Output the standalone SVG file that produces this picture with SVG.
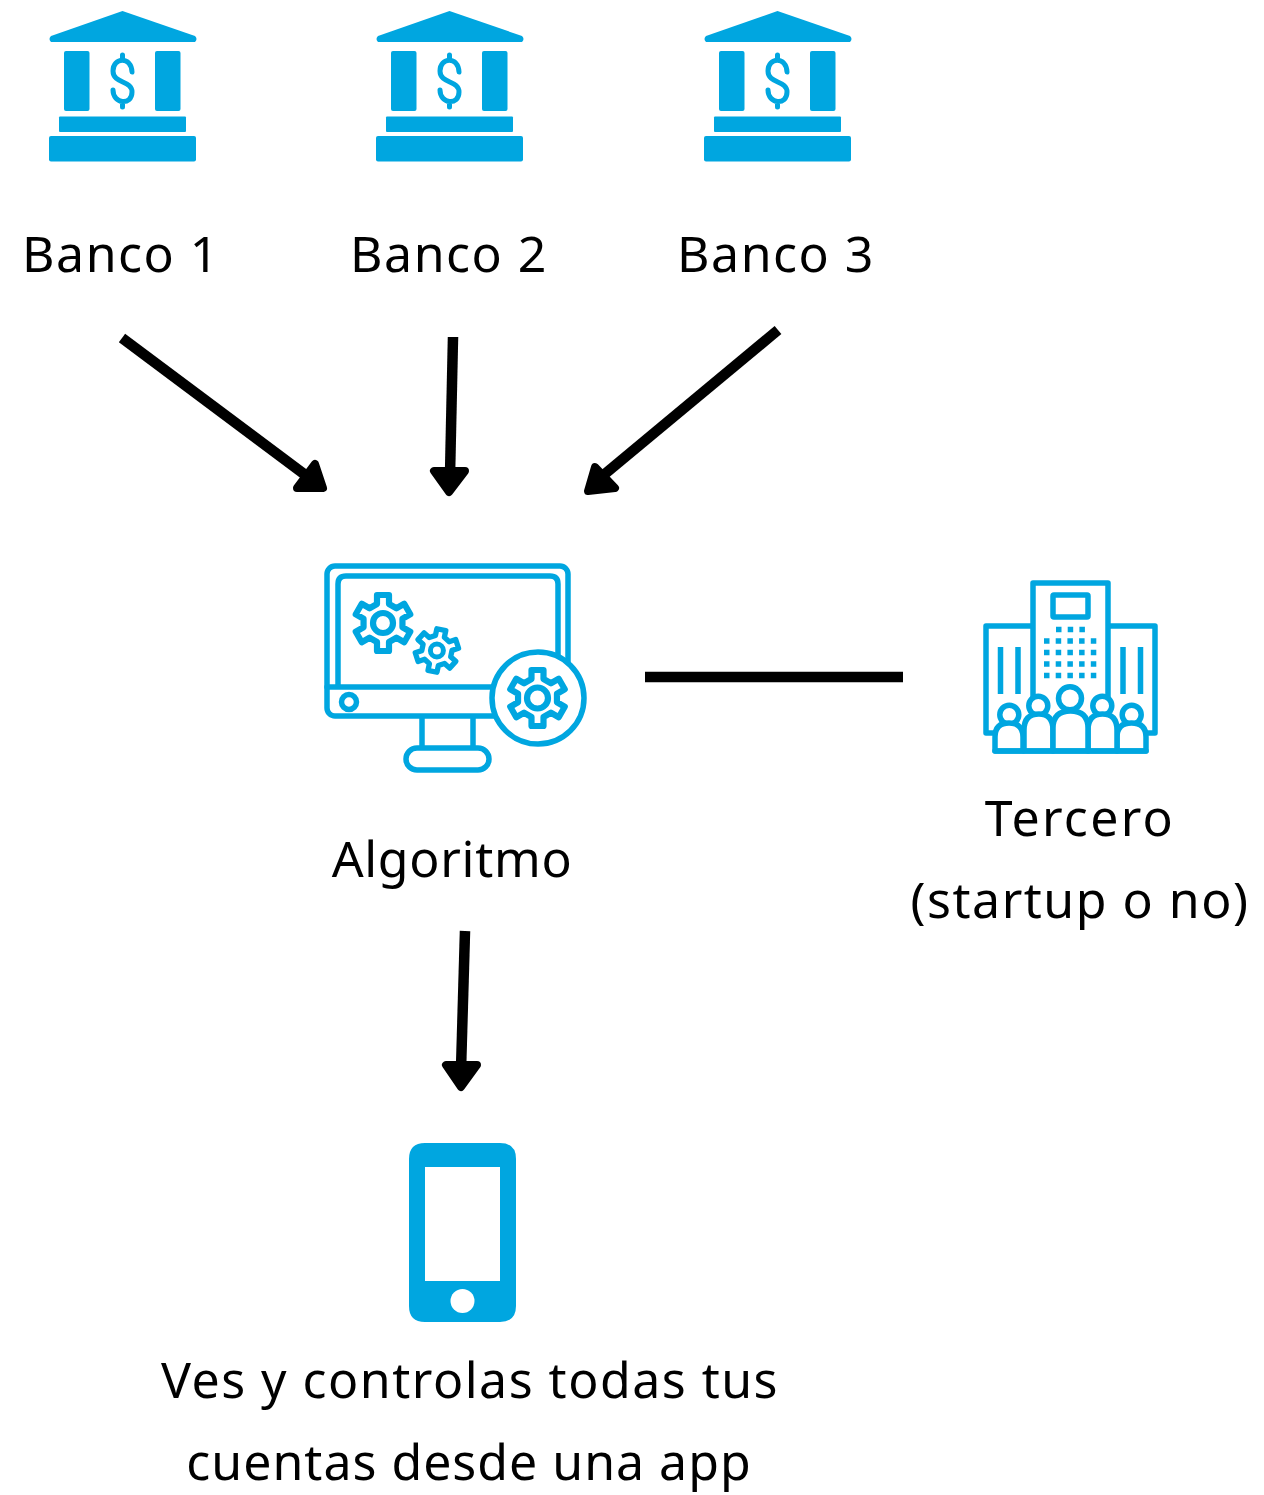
<svg xmlns="http://www.w3.org/2000/svg" width="1264" height="1495" viewBox="0 0 1264 1495">
<style>
.t{font-family:"Noto Sans","Open Sans",sans-serif;font-size:50px;fill:#000;text-anchor:middle;letter-spacing:1.5px}
.c{fill:none;stroke:#000;stroke-width:10.500}
.h{fill:#000;stroke:#000;stroke-width:8;stroke-linejoin:round}
.f{fill:#00a6e0}
.s{fill:none;stroke:#00a6e0;stroke-width:5.500;stroke-linejoin:round;stroke-linecap:round}
.w{fill:#fff;stroke:#00a6e0;stroke-width:5.500;stroke-linejoin:round}
.g{fill:none;stroke:#00a6e0;stroke-width:6.200;stroke-linejoin:round}
</style>
<defs>
<g id="bank">
<path class="f" d="M-0.500 -75L72 -50Q75 -47 72 -44L-72 -44Q-75 -47 -72 -50Z"/>
<rect class="f" x="-59" y="-35" width="25.500" height="60" rx="2"/>
<rect class="f" x="32" y="-35" width="25.500" height="60" rx="2"/>
<rect class="f" x="-64" y="30.500" width="127" height="15.500" rx="1"/>
<rect class="f" x="-74" y="50" width="147" height="25.500" rx="2"/>
<path d="M9.500 -14C9 -30 -9.500 -29 -9.500 -15C-9.500 -2 9.500 -6 9.500 6C9.500 20 -9.500 18 -9.500 4M0 -26V-31M0 16V21" fill="none" stroke="#00a6e0" stroke-width="5" stroke-linecap="round" transform="translate(-0.500 0)"/>
</g>
<path id="gear" d="M-6 -19L-6 -28L6 -28L6 -19L13.450 -14.700L21.250 -19.200L27.250 -8.800L19.450 -4.300L19.450 4.300L27.250 8.800L21.250 19.200L13.450 14.700L6 19L6 28L-6 28L-6 19L-13.450 14.700L-21.250 19.200L-27.250 8.800L-19.450 4.300L-19.450 -4.300L-27.250 -8.800L-21.250 -19.200L-13.450 -14.700Z"/>
</defs>
<g id="connectors">
<path class="c" d="M122 338L312 480"/><path class="h" d="M323 488H297L315 464Z"/>
<path class="c" d="M453 337L450 475"/><path class="h" d="M449 492L434 471H465Z"/>
<path class="c" d="M778 330L600 478"/><path class="h" d="M588 491L595 467L615 488Z"/>
<path class="c" d="M645 677H903"/>
<path class="c" d="M465 931L461 1070"/><path class="h" d="M461 1087L446 1065H477Z"/>
</g>
<g id="banco1"><use href="#bank" x="123" y="86"/><text class="t" x="121" y="272">Banco 1</text></g>
<g id="banco2"><use href="#bank" x="450" y="86"/><text class="t" x="449" y="272">Banco 2</text></g>
<g id="banco3"><use href="#bank" x="778" y="86"/><text class="t" x="776" y="272">Banco 3</text></g>
<g id="algoritmo">
<rect class="s" x="327" y="566" width="241" height="150" rx="8"/>
<path class="s" d="M338 687V584Q338 576 346 576H550Q558 576 558 584V660M327 687H495"/>
<circle class="s" cx="349" cy="702" r="7.500"/>
<path class="s" d="M422 717V746M473 717V746"/>
<rect class="s" x="406" y="748" width="83" height="22" rx="11"/>
<circle cx="538" cy="698" r="46" fill="#fff" stroke="#00a6e0" stroke-width="5.500"/>
<use href="#gear" class="g" transform="translate(383 623)"/><circle class="g" cx="383" cy="623" r="10"/>
<use href="#gear" class="g" style="stroke-width:7" transform="translate(436.900 650.500) rotate(12) scale(.76)"/><circle class="g" style="stroke-width:5" cx="436.900" cy="650.500" r="6.500"/>
<use href="#gear" class="g" transform="translate(537.500 698)"/><circle class="g" cx="537.500" cy="698" r="10.500"/>
<text class="t" style="letter-spacing:.7px" x="452" y="877">Algoritmo</text>
</g>
<g id="tercero">
<path class="s" d="M1033 715V583H1108V715M1033 626H986V733H995M1108 626H1155V733H1146"/>
<rect class="s" x="1053" y="595" width="35" height="22" rx="1"/>
<path d="M1000.500 647V694M1018 647V694M1123 647V694M1140.500 647V694" fill="none" stroke="#00a6e0" stroke-width="5.500"/>
<path d="M1056 629.500H1088M1044 641H1100M1044 652.500H1100M1044 664H1100M1044 675.500H1100" fill="none" stroke="#00a6e0" stroke-width="5.500" stroke-dasharray="5.500 6.200"/>
<circle class="w" cx="1009.300" cy="714.700" r="9.500"/><circle class="w" cx="1038.300" cy="705.700" r="9.500"/><circle class="w" cx="1070" cy="698.300" r="11.500"/><circle class="w" cx="1102.300" cy="705.700" r="9.500"/><circle class="w" cx="1131.700" cy="714.700" r="9.500"/>
<path class="w" d="M995 751V737Q995 723 1009 723Q1023 723 1023 737V751Z"/>
<path class="w" d="M1117 751V737Q1117 723 1131.500 723Q1146 723 1146 737V751Z"/>
<path class="w" d="M1024 751V730Q1024 714 1039 714Q1053 714 1053 730V751Z"/>
<path class="w" d="M1088 751V730Q1088 714 1102.500 714Q1117 714 1117 730V751Z"/>
<path class="w" d="M1053 751V728Q1053 711 1070.500 711Q1088 711 1088 728V751Z"/>
<path class="s" d="M995 751H1146"/>
<text class="t"><tspan style="letter-spacing:2.300px" x="1080" y="836">Tercero</tspan><tspan x="1080" y="918">(startup o no)</tspan></text>
</g>
<g id="app">
<path class="f" fill-rule="evenodd" d="M425 1143H500Q516 1143 516 1159V1306Q516 1322 500 1322H425Q409 1322 409 1306V1159Q409 1143 425 1143ZM425 1167V1281H500V1167Z"/>
<circle cx="462.500" cy="1301" r="12" fill="#fff"/>
<text class="t"><tspan x="470" y="1398">Ves y controlas todas tus</tspan><tspan style="letter-spacing:1px" x="469" y="1480">cuentas desde una app</tspan></text>
</g>
</svg>
